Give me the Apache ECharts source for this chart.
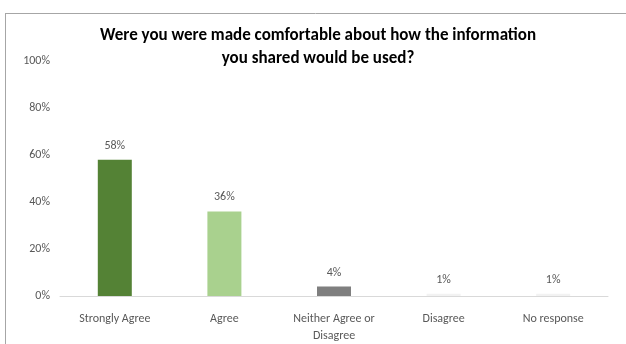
<!DOCTYPE html>
<html>
<head>
<meta charset="utf-8">
<script src="https://cdn.jsdelivr.net/npm/echarts@6/dist/echarts.min.js"></script>
<style>
html,body{margin:0;padding:0;background:#fff;}
#c{width:626px;height:344px;}
</style>
</head>
<body>
<div id="c"></div>
<script>
var categories = ['Strongly Agree', 'Agree', 'Neither Agree or\nDisagree', 'Disagree', 'No response'];
var values = [58, 36, 4, 1, 1];
var barColors = ['#548235', '#A9D18E', '#7F7F7F', '#F2F2F2', '#F2F2F2'];
var titleText = 'Were you were made comfortable about how the information\nyou shared would be used?';
var FONT = 'Carlito, Lato, sans-serif';

var chart = echarts.init(document.getElementById('c'), null, {renderer: 'canvas'});
chart.setOption({
  backgroundColor: '#fff',
  animation: false,
  title: {
    text: titleText,
    left: 313,
    textAlign: 'center',
    top: 19,
    textStyle: {fontFamily: FONT, fontWeight: 'bold', fontSize: 17, color: '#000', lineHeight: 23}
  },
  graphic: [
    {type: 'line', shape: {x1: 5, y1: 13.5, x2: 626, y2: 13.5}, style: {stroke: '#A6A6A6', lineWidth: 1}},
    {type: 'line', shape: {x1: 5.5, y1: 13, x2: 5.5, y2: 344}, style: {stroke: '#A6A6A6', lineWidth: 1}}
  ],
  grid: {left: 60, right: 18, top: 61, bottom: 44},
  xAxis: {
    type: 'category',
    data: categories,
    axisLine: {lineStyle: {color: '#D9D9D9', width: 1}},
    axisTick: {show: false},
    axisLabel: {fontFamily: FONT, fontSize: 12, color: '#595959', margin: 14, lineHeight: 17, interval: 0}
  },
  yAxis: {
    type: 'value',
    min: 0, max: 100, interval: 20,
    splitLine: {show: false},
    axisLine: {show: false},
    axisTick: {show: false},
    axisLabel: {fontFamily: FONT, fontSize: 12, color: '#595959', margin: 10, formatter: '{value}%'}
  },
  series: [{
    type: 'bar',
    data: values.map(function (v, i) { return {value: v, itemStyle: {color: barColors[i]}}; }),
    barWidth: 34,
    label: {show: true, position: 'top', distance: 8, fontFamily: FONT, fontSize: 12, color: '#595959', formatter: '{c}%'}
  }]
});
</script>
</body>
</html>
